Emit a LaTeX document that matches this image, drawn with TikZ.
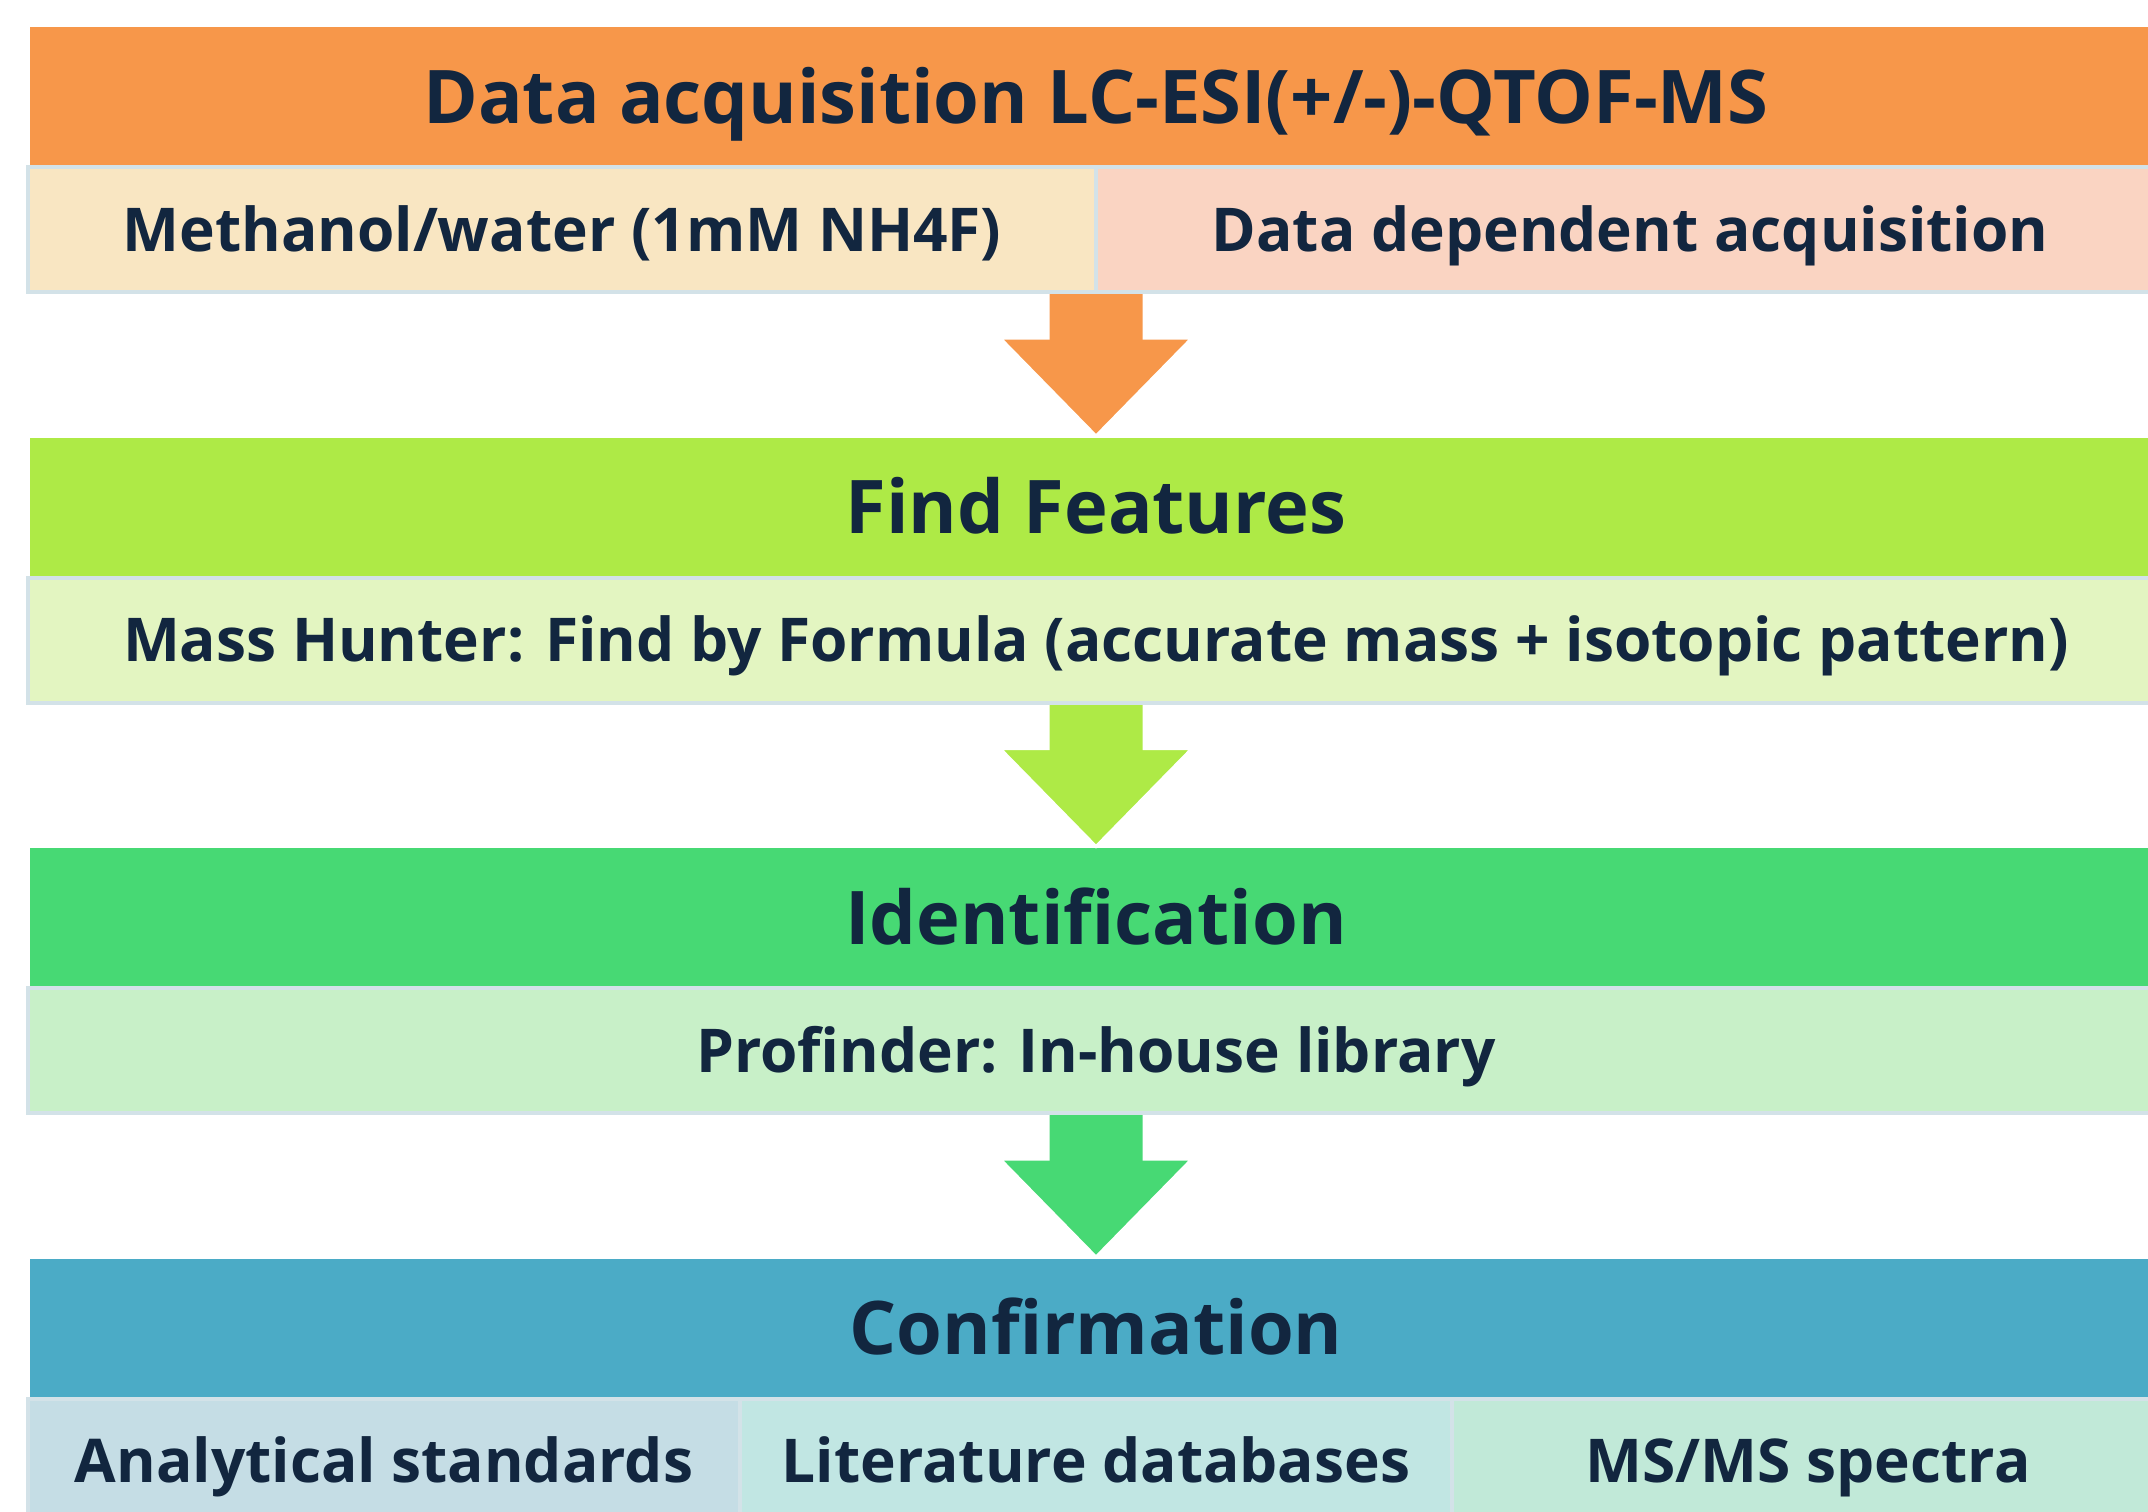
\documentclass[tikz,border=0pt]{standalone}
\usepackage{fontspec}
\setmainfont{Open Sans}
\usetikzlibrary{calc}
\definecolor{ink}{HTML}{12263F}
\definecolor{bord}{HTML}{D3E2E8}
\definecolor{cOr}{HTML}{F7974A}
\definecolor{cGr}{HTML}{AEEA46}
\definecolor{cGn}{HTML}{47D974}
\definecolor{cBl}{HTML}{4BABC6}
\definecolor{sOa}{HTML}{F9E6C2}
\definecolor{sOb}{HTML}{FAD4C2}
\definecolor{sGr}{HTML}{E3F5C1}
\definecolor{sGn}{HTML}{C8F0C8}
\definecolor{sBa}{HTML}{C5DDE5}
\definecolor{sBb}{HTML}{C1E6E3}
\definecolor{sBc}{HTML}{C1E9D8}
\newlength\tmpw
\begin{document}
\settowidth\tmpw{\bfseries\fontsize{10}{12}\selectfont Data acquisition LC-ESI(+/-)-QTOF-MS}
\pgfmathsetmacro\hfs{1345/\tmpw*10}
\pgfmathsetmacro\hcap{0.714*\hfs}
\settowidth\tmpw{\bfseries\fontsize{10}{12}\selectfont Mass Hunter: Find by Formula (accurate mass + isotopic pattern)}
\pgfmathsetmacro\sfs{1946/\tmpw*10}
\pgfmathsetmacro\scap{0.714*\sfs}
\begin{tikzpicture}[x=1pt,y=-1pt,
  band/.style={rectangle, inner sep=0pt, outer sep=0pt, minimum width=2132, minimum height=140,
    anchor=north west, text=ink, font=\bfseries\fontsize{\hfs}{\hfs}\selectfont,
    text height=\hcap pt, text depth=0pt},
  subbox/.style={rectangle, inner sep=0pt, outer sep=0pt, draw=bord, line width=4pt,
    minimum height=125, anchor=north west, text=ink,
    font=\bfseries\fontsize{\sfs}{\sfs}\selectfont, text height=\scap pt, text depth=0pt},
  arrowshape/.style={draw=white, line width=3pt, line join=miter}]
\clip (0,0) rectangle (2148,1512);
\fill[white] (0,0) rectangle (2148,1512);
% bands
\node[band, fill=cOr] (b1) at (30,27) {Data acquisition LC-ESI(+/-)-QTOF-MS};
\node[band, fill=cGr] (b2) at (30,437.5) {Find Features};
\node[band, fill=cGn] (b3) at (30,848) {Identification};
\node[band, fill=cBl] (b4) at (30,1258.5) {Confirmation};
% sub-box anchors for arrows
\coordinate (a1) at (1096,292);
\coordinate (a2) at (1096,702.5);
\coordinate (a3) at (1096,1113);
% arrows
\draw[arrowshape, fill=cOr] ($(a1)+(-48,-2)$) -- ++(96,0) -- ++(0,48) -- ++(48,0)
  -- ($(b2.north)+(0,-1.5)$) -- ++(-96,-98) -- ++(48,0) -- cycle;
\draw[arrowshape, fill=cGr] ($(a2)+(-48,-2)$) -- ++(96,0) -- ++(0,48) -- ++(48,0)
  -- ($(b3.north)+(0,-1.5)$) -- ++(-96,-98) -- ++(48,0) -- cycle;
\draw[arrowshape, fill=cGn] ($(a3)+(-48,-2)$) -- ++(96,0) -- ++(0,48) -- ++(48,0)
  -- ($(b4.north)+(0,-1.5)$) -- ++(-96,-98) -- ++(48,0) -- cycle;
% sub boxes
\node[subbox, fill=sOa, minimum width=1068] (m1) at (28,167) {Methanol/water (1mM NH4F)};
\node[subbox, fill=sOb, minimum width=1068] (m2) at (1096,167) {Data dependent acquisition};
\node[subbox, fill=sGr, minimum width=2136] (s2) at (28,577.5) {Mass Hunter: Find by Formula (accurate mass + isotopic pattern)};
\node[subbox, fill=sGn, minimum width=2136] (s3) at (28,988) {Profinder: In-house library};
\node[subbox, fill=sBa, minimum width=712] (c1) at (28,1398.5) {Analytical standards};
\node[subbox, fill=sBb, minimum width=712] (c2) at (740,1398.5) {Literature databases};
\node[subbox, fill=sBc, minimum width=712] (c3) at (1452,1398.5) {MS/MS spectra};
\end{tikzpicture}
\end{document}
